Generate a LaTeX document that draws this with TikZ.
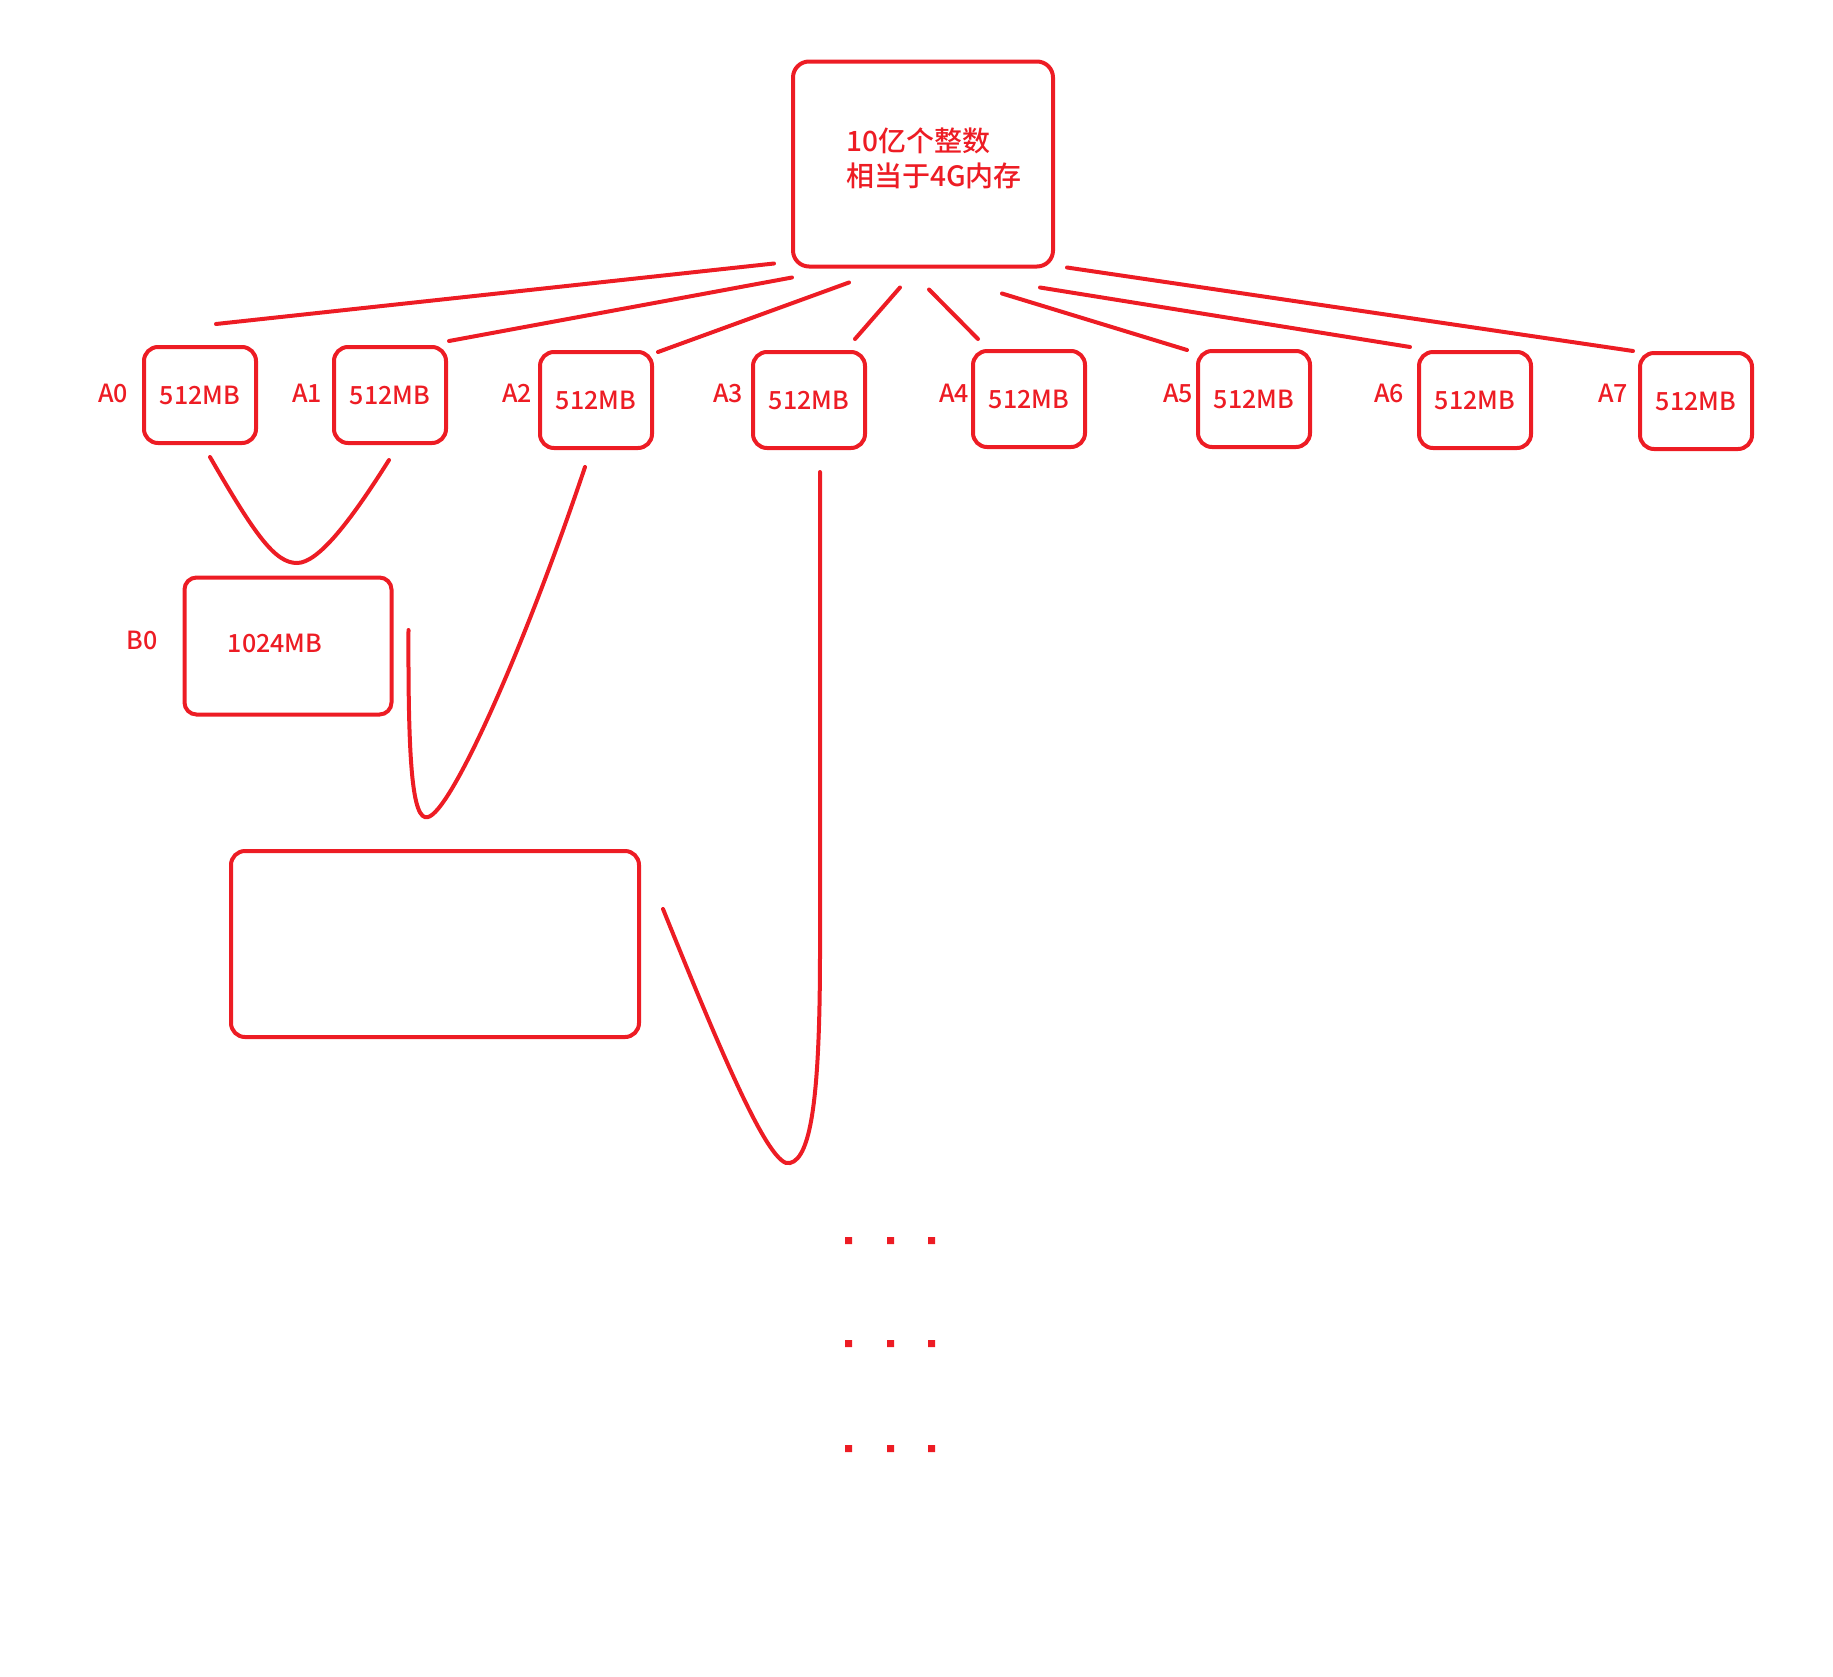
\documentclass[tikz,border=0pt]{standalone}
\usepackage{fontspec}
\IfFontExistsTF{Noto Sans CJK SC Medium}{\setmainfont{Noto Sans CJK SC Medium}}{\setmainfont{Noto Sans CJK SC}[UprightFont={* Bold}]}
\usepackage{xcolor}
\usepackage{tikz}
\usetikzlibrary{calc}
\definecolor{paintred}{RGB}{237,28,36}

\begin{document}
\begin{tikzpicture}[x=1pt,y=-1pt,
  box/.style={draw=paintred,line width=4pt,rounded corners=14pt,inner sep=0pt,text=paintred,font=\fontsize{25}{30}\selectfont},
  tag/.style={text=paintred,inner sep=0pt,font=\fontsize{25}{30}\selectfont},
  wire/.style={paintred,line width=4pt,line cap=round}]
\useasboundingbox (0,0) rectangle (1833,1676);

\node[box,minimum width=260pt,minimum height=205pt,rounded corners=16pt](top) at (923,164){};
\node[tag,anchor=west,align=left,font=\fontsize{28}{35}\selectfont](toptext) at (846,158){10亿个整数\\相当于4G内存};

\node[box,minimum width=112pt,minimum height=96pt](a0) at (200,395){512MB};
\node[box,minimum width=112pt,minimum height=96pt](a1) at (390,395){512MB};
\node[box,minimum width=112pt,minimum height=96pt](a2) at (596,400){512MB};
\node[box,minimum width=112pt,minimum height=96pt](a3) at (809,400){512MB};
\node[box,minimum width=112pt,minimum height=96pt](a4) at (1029,399){512MB};
\node[box,minimum width=112pt,minimum height=96pt](a5) at (1254,399){512MB};
\node[box,minimum width=112pt,minimum height=96pt](a6) at (1475,400){512MB};
\node[box,minimum width=112pt,minimum height=96pt](a7) at (1696,401){512MB};

\node[tag](la0) at (113,393){A0};
\node[tag](la1) at (307,393){A1};
\node[tag](la2) at (517,393){A2};
\node[tag](la3) at (728,393){A3};
\node[tag](la4) at (954,393){A4};
\node[tag](la5) at (1178,393){A5};
\node[tag](la6) at (1389,393){A6};
\node[tag](la7) at (1613,393){A7};

\node[box,minimum width=207pt,minimum height=137pt,rounded corners=12pt](b0) at (288,646){};
\node[tag](b0text) at (275,643){1024MB};
\node[tag](lb0) at (142,640){B0};

\node[box,minimum width=408pt,minimum height=186pt](c0) at (435,944){};

\draw[wire]($(top.south west)+(-17,-5)$) -- ($(a0.north)+(16,-21)$);
\draw[wire]($(top.south west)+(1,9)$) -- ($(a1.north east)+(1,-4)$);
\draw[wire]($(top.south)+(-74,14)$) -- ($(a2.north east)+(4,2)$);
\draw[wire]($(top.south)+(-23,19)$) -- ($(a3.north east)+(-12,-11)$);
\draw[wire]($(top.south)+(6,21)$) -- ($(a4.north west)+(7,-10)$);
\draw[wire]($(top.south)+(79,25)$) -- ($(a5.north west)+(-9,1)$);
\draw[wire]($(top.south east)+(-15,19)$) -- ($(a6.north west)+(-7,-3)$);
\draw[wire]($(top.south east)+(12,-1)$) -- ($(a7.north west)+(-5,0)$);

\draw[wire]($(a0.south)+(10,12)$) .. controls (255,535) and (275,563) .. (297,563)
  .. controls (318,563) and (350,522) .. ($(a1.south)+(-1,15)$);
\draw[wire]($(b0.east)+(15,-16)$) .. controls (408,760) and (412,822) .. (428,817)
  .. controls (450,812) and (520,660) .. ($(a2.south)+(-11,17)$);
\draw[wire]($(c0.east)+(22,-35)$) .. controls (720,1050) and (770,1170) .. (790,1163)
  .. controls (812,1158) and (820,1090) .. (820,950) -- ($(a3.south)+(11,22)$);

\fill[paintred] (845,1237) rectangle ++(7,7) (887,1237) rectangle ++(7,7) (928,1237) rectangle ++(7,7);
\fill[paintred] (845,1340) rectangle ++(7,7) (887,1340) rectangle ++(7,7) (928,1340) rectangle ++(7,7);
\fill[paintred] (845,1445) rectangle ++(7,7) (887,1445) rectangle ++(7,7) (928,1445) rectangle ++(7,7);

\end{tikzpicture}
\end{document}
